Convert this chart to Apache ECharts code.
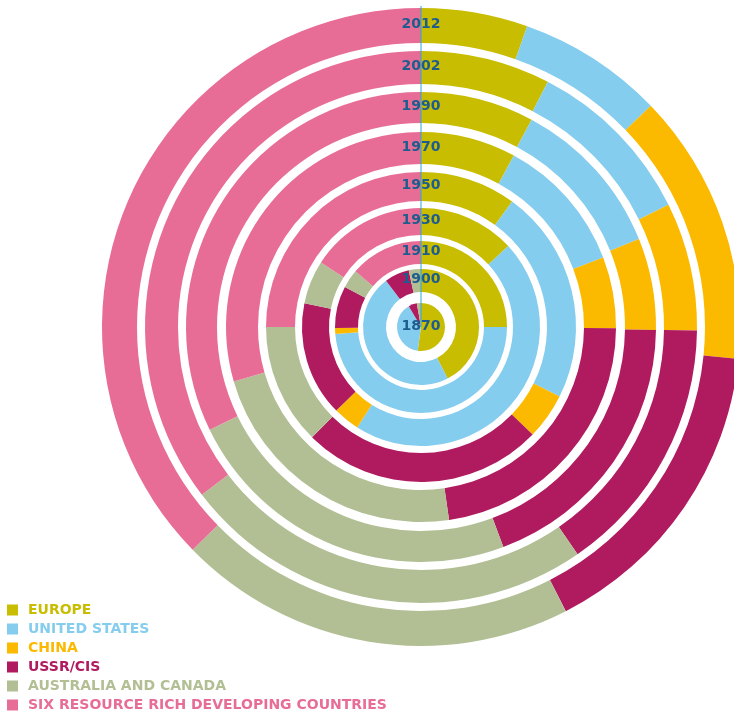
<!DOCTYPE html>
<html>
<head>
<meta charset="utf-8">
<script src="https://cdn.jsdelivr.net/npm/echarts@6/dist/echarts.min.js"></script>
<style>
  html, body { margin: 0; padding: 0; background: #fff; }
  #chart { width: 734px; height: 718px; }
</style>
</head>
<body>
<div id="chart"></div>
<script>
// years, innermost ring first
const years = ['1870', '1900', '1910', '1930', '1950', '1970', '1990', '2002', '2012']
const regions = ['EUROPE', 'UNITED STATES', 'CHINA', 'USSR/CIS', 'AUSTRALIA AND CANADA', 'SIX RESOURCE RICH DEVELOPING COUNTRIES']

// share per year (%)
const europe = [52.2, 42.4, 25.0, 13.1, 10.0, 7.9, 7.8, 7.6, 5.4]
const unitedStates = [39.3, 47.3, 48.7, 45.9, 22.4, 11.3, 11.1, 10.1, 7.4]
const china = [0, 0, 1.1, 3.6, 4.8, 5.9, 6.3, 7.5, 13.8]
const ussr = [5.7, 6.9, 7.9, 15.6, 25.2, 22.6, 19.1, 15.2, 15.9]
const australiaCanada = [2.8, 3.4, 3.5, 5.9, 12.6, 22.8, 23.5, 24.2, 20.2]
const sixCountries = [0, 0, 13.8, 15.9, 25.0, 29.5, 32.2, 35.4, 37.3]

const regionValues = [europe, unitedStates, china, ussr, australiaCanada, sixCountries]
const colors = ['#c8bd00', '#85cdee', '#fbb900', '#b01a5e', '#b2bf94', '#e86d96']

// ring layout (px)
const center = [421, 327]
const ringRadii = [[0, 24], [35, 58], [63, 86], [92, 119], [126, 155], [163, 195], [204, 235], [243, 276], [284, 319]]

const series = years.map((year, i) => ({
  type: 'pie',
  name: year,
  center: center,
  radius: ringRadii[i],
  startAngle: 90,
  clockwise: true,
  silent: true,
  animation: false,
  label: { show: false },
  labelLine: { show: false },
  emphasis: { disabled: true },
  itemStyle: { borderWidth: 0 },
  data: regions.map((name, r) => ({
    name: name,
    value: regionValues[r][i],
    itemStyle: { color: colors[r] }
  }))
}))

const yearLabels = years.map((year, i) => {
  const mid = i === 0 ? 0 : (ringRadii[i][0] + ringRadii[i][1]) / 2
  return {
    type: 'text',
    z: 100,
    x: center[0],
    y: center[1] - mid - 1,
    style: {
      text: year,
      fill: '#1c5d8e',
      font: 'bold 14px "DejaVu Sans"',
      align: 'center',
      verticalAlign: 'middle'
    }
  }
})

const chart = echarts.init(document.getElementById('chart'))
chart.setOption({
  animation: false,
  legend: {
    orient: 'vertical',
    left: 7,
    top: 603,
    height: 115,
    padding: 0,
    icon: 'rect',
    itemWidth: 11,
    itemHeight: 11,
    itemGap: 5,
    selectedMode: false,
    textStyle: { fontFamily: 'DejaVu Sans', fontWeight: 'bold', fontSize: 14, padding: [0, 0, 0, 5] },
    data: regions.map((name, r) => ({
      name: name,
      itemStyle: { color: colors[r] },
      textStyle: { color: colors[r] }
    }))
  },
  graphic: [
    {
      type: 'line',
      z: 99,
      shape: { x1: center[0], y1: center[1] - ringRadii[8][1] - 2, x2: center[0], y2: center[1] },
      style: { stroke: '#2aa6de', lineWidth: 1 }
    }
  ].concat(yearLabels),
  series: series
})
</script>
</body>
</html>
